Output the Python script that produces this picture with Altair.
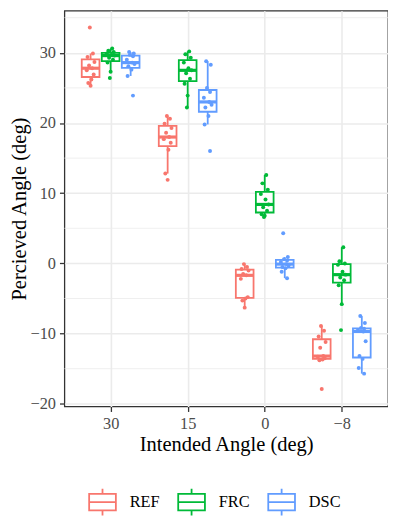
import altair as alt
import pandas as pd

# ---- data ----
intended_labels = ["30", "15", "0", "−8"]
groups = ["REF", "FRC", "DSC"]
colors = ["#F8766D", "#00BA38", "#619CFF"]

ref_values = {
    "30": [33.6, 29.9, 29.4, 28.7, 28.2, 27.8, 27.5, 26.9, 26.2, 25.7, 25.3],
    "15": [21.0, 20.6, 19.9, 19.3, 18.6, 18.0, 17.7, 17.2, 16.2, 12.8, 11.9],
    "0": [-0.1, -0.5, -0.8, -1.0, -1.5, -1.7, -2.2, -4.8, -5.0, -5.3, -6.3],
    "−8": [-8.9, -9.6, -10.4, -11.2, -12.0, -13.2, -13.3, -13.5, -13.7, -13.8, -17.9],
}
frc_values = {
    "30": [30.6, 30.3, 30.1, 29.9, 29.7, 29.6, 29.3, 29.0, 28.6, 27.3, 26.4],
    "15": [30.2, 29.8, 29.3, 28.6, 27.8, 27.5, 27.1, 26.3, 25.6, 23.9, 22.2],
    "0": [12.6, 11.4, 10.5, 9.9, 9.1, 8.4, 8.0, 7.5, 7.0, 6.8, 6.6],
    "−8": [2.3, 0.3, 0.0, -0.2, -1.2, -1.6, -2.0, -2.4, -3.1, -5.8, -9.5],
}
dsc_values = {
    "30": [30.1, 29.9, 29.7, 29.5, 29.0, 28.6, 28.4, 28.1, 27.6, 26.7, 23.9],
    "15": [28.8, 28.3, 25.0, 24.4, 23.6, 23.0, 22.6, 22.2, 21.0, 19.8, 16.0],
    "0": [4.3, 0.9, 0.6, 0.4, 0.2, -0.1, -0.3, -0.5, -0.7, -1.2, -2.1],
    "−8": [-7.5, -8.5, -9.2, -9.3, -9.5, -9.7, -11.1, -13.2, -13.6, -14.9, -15.7],
}
# small horizontal jitter of the points (in category units)
ref_jitter = [-0.01, 0.03, -0.04, 0.05, -0.02, 0.02, -0.05, 0.04, 0.01, -0.03, 0.00]
frc_jitter = [0.02, -0.03, 0.04, -0.05, 0.01, 0.05, -0.02, 0.03, -0.04, 0.00, -0.01]
dsc_jitter = [-0.02, 0.04, -0.01, 0.03, -0.05, 0.02, 0.05, -0.03, 0.01, -0.04, 0.03]

y_ticks = [-20, -10, 0, 10, 20, 30]
y_minor = [-15, -5, 5, 15, 25, 35]

series = {"REF": (ref_values, ref_jitter), "FRC": (frc_values, frc_jitter), "DSC": (dsc_values, dsc_jitter)}
rows = []
for ci, cat in enumerate(intended_labels):
    for g in groups:
        vals, jit = series[g]
        for v, j in zip(vals[cat], jit):
            rows.append({"intended": cat, "pos": ci + 1, "group": g,
                         "gidx": groups.index(g), "jit": j, "value": v})
df = pd.DataFrame(rows)

DODGE = 0.26
HALF = 0.115
FONT = "Liberation Serif"

xscale = alt.Scale(domain=[0.4, 4.6], nice=False, zero=False)
yscale = alt.Scale(domain=[-20.38, 36.0], nice=False, zero=False)
# legend scale (explicit domain) and data-domain scale for the other channels
cscale = alt.Scale(domain=groups, range=colors)
color_of = dict(zip(groups, colors))
dscale = alt.Scale(range=[color_of[g] for g in sorted(groups)])

label_expr = "[" + ",".join("'" + s + "'" for s in intended_labels) + "][datum.value - 1]"

base = alt.Chart(df).transform_calculate(
    xc=f"datum.pos + (datum.gidx - 1) * {DODGE}"
)

xaxis = alt.Axis(values=[1, 2, 3, 4], labelExpr=label_expr, title="Intended Angle (deg)",
                 grid=True, titlePadding=3)
yaxis = alt.Axis(values=y_ticks, title="Percieved Angle (deg)", grid=True, titlePadding=1)

minor = alt.Chart(pd.DataFrame({"m": y_minor})).mark_rule(
    color="#EBEBEB", strokeWidth=0.8
).encode(y=alt.Y("m:Q", scale=yscale, axis=yaxis))

stats = base.transform_joinaggregate(
    q1="q1(value)", q3="q3(value)", med="median(value)", groupby=["intended", "group"]
).transform_calculate(
    lo="datum.q1 - 1.5 * (datum.q3 - datum.q1)",
    hi="datum.q3 + 1.5 * (datum.q3 - datum.q1)",
).transform_filter(
    "datum.value >= datum.lo && datum.value <= datum.hi"
).transform_aggregate(
    wmin="min(value)", wmax="max(value)", q1="max(q1)", q3="max(q3)", med="max(med)",
    groupby=["intended", "group", "xc"]
).transform_calculate(
    xl=f"datum.xc - {HALF}", xr=f"datum.xc + {HALF}"
)

box_path = "M-1,-0.62L1,-0.62L1,0.62L-1,0.62Z M-1,0L1,0 M0,-0.62L0,-1 M0,0.62L0,1"

legend = alt.Legend(title=None, orient="none", direction="horizontal",
                    legendX=24, legendY=482,
                    symbolType=box_path, symbolSize=729,
                    symbolStrokeWidth=1.8, symbolFillColor="white",
                    labelFont=FONT, labelFontSize=16.5, labelColor="black",
                    labelOffset=13, columnPadding=14, padding=0)

whisk = stats.mark_rule(strokeWidth=1.8).encode(
    x=alt.X("xc:Q", scale=xscale, axis=xaxis),
    y=alt.Y("wmin:Q", scale=yscale),
    y2="wmax:Q",
    color=alt.Color("group:N", scale=cscale, sort=groups, legend=legend),
)

boxes = stats.mark_rect(fill="white", strokeWidth=1.8).encode(
    x=alt.X("xl:Q", scale=xscale),
    x2="xr:Q",
    y=alt.Y("q1:Q", scale=yscale),
    y2="q3:Q",
    stroke=alt.Stroke("group:N", scale=dscale, legend=None),
)

medians = stats.mark_rule(strokeWidth=3.2).encode(
    x=alt.X("xl:Q", scale=xscale),
    x2="xr:Q",
    y=alt.Y("med:Q", scale=yscale),
    color=alt.Color("group:N", scale=cscale, sort=groups),
)

points = base.transform_calculate(
    xj="datum.xc + datum.jit"
).mark_circle(size=16, opacity=1).encode(
    x=alt.X("xj:Q", scale=xscale),
    y=alt.Y("value:Q", scale=yscale),
    fill=alt.Fill("group:N", scale=dscale, legend=None),
)

chart = alt.layer(minor, whisk, boxes, medians, points).properties(
    width=327, height=400,
    autosize=alt.AutoSizeParams(type="none"),
    padding={"left": 57, "top": 0, "right": 0, "bottom": 111},
).configure(font=FONT).configure_view(
    stroke="#333333", strokeWidth=1.3
).configure_axis(
    labelFont=FONT, labelFontSize=16.5, labelColor="#4D4D4D", labelPadding=4,
    titleFont=FONT, titleFontSize=20.7, titleColor="black", titleFontWeight="normal",
    tickColor="#333333", tickSize=5, tickWidth=1.3, domain=False,
    gridColor="#EBEBEB", gridWidth=1.6,
)

chart.save("out.html", embed_options={"renderer": "svg", "actions": False})
